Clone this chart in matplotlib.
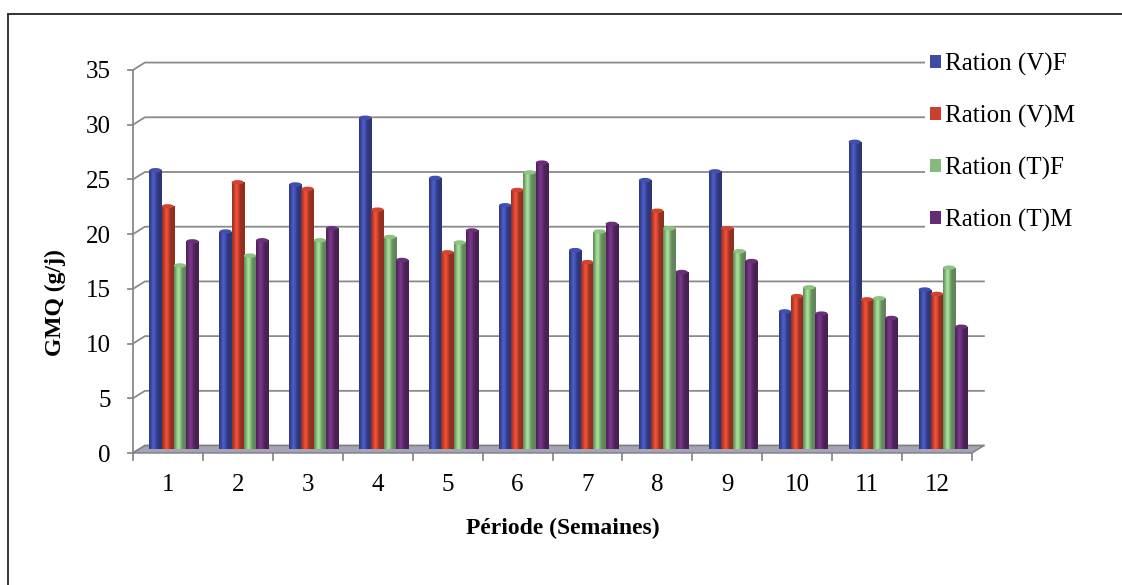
import numpy as np
import matplotlib.pyplot as plt
from matplotlib.patches import Polygon, Ellipse
from matplotlib.lines import Line2D
from matplotlib.colors import to_rgb

plt.rcParams['font.family'] = ['Liberation Serif', 'DejaVu Serif']

# GMQ par semaine et par ration
semaines = ['1', '2', '3', '4', '5', '6', '7', '8', '9', '10', '11', '12']
ration_v_f = [25.5, 19.9, 24.2, 30.3, 24.8, 22.3, 18.2, 24.6, 25.4, 12.6, 28.1, 14.6]
ration_v_m = [22.2, 24.4, 23.8, 21.9, 18.0, 23.7, 17.1, 21.8, 20.2, 14.0, 13.7, 14.2]
ration_t_f = [16.8, 17.7, 19.1, 19.4, 18.9, 25.3, 19.9, 20.2, 18.1, 14.8, 13.8, 16.6]
ration_t_m = [19.0, 19.1, 20.2, 17.3, 20.0, 26.2, 20.6, 16.2, 17.2, 12.4, 12.0, 11.2]
series = [ration_v_f, ration_v_m, ration_t_f, ration_t_m]
labels = ['Ration (V)F', 'Ration (V)M', 'Ration (T)F', 'Ration (T)M']
colors = ['#3E4BA5', '#C8412D', '#87B97D', '#642D73']

W, H = 1122, 585
fig = plt.figure(figsize=(W / 100, H / 100), dpi=100)
ax = fig.add_axes([133 / W, 132 / H, 839 / W, 383 / H])
n = len(semaines)
for s in ax.spines.values():
    s.set_visible(False)

# fake 3D box: back wall offset by (dx, dy)
dx, dy = 0.17, 0.68
grid_c = '#8a8a8a'
for v in range(0, 36, 5):
    ax.plot([0, dx, n + dx], [v + 0, v + dy, v + dy], color=grid_c, lw=1.3,
            clip_on=False, zorder=1)
    ax.plot([-0.07, 0], [v, v], color=grid_c, lw=1.3, clip_on=False, zorder=1)
ax.plot([0, 0], [0, 35], color=grid_c, lw=1.3, clip_on=False, zorder=1)

floor = Polygon([(0, 0), (n, 0), (n + dx, dy), (dx, dy)], closed=True,
                facecolor='#a4a4b4', edgecolor='#7c7c84', lw=1.0,
                clip_on=False, zorder=1.5)
ax.add_patch(floor)
for i in range(n + 1):
    ax.plot([i, i], [0, -0.6], color=grid_c, lw=1.3, clip_on=False, zorder=1)

# cylinder-like bars
w = 0.175
prof = np.linspace(0, 1, 40)
shade = 0.72 + 0.5 * np.exp(-((prof - 0.35) / 0.22) ** 2)
x = np.arange(n) + 0.5 + dx / 2
for k, (vals, c, lab) in enumerate(zip(series, colors, labels)):
    base = np.array(to_rgb(c))
    img = np.clip(base[None, None, :] * shade[None, :, None], 0, 1)
    bars = ax.bar(x + (k - 1.5) * w, vals, w, bottom=dy / 2, color=c,
                  label=lab, zorder=3, clip_on=False)
    for b in bars:
        x0, y0 = b.get_x(), b.get_y()
        bw, bh = b.get_width(), b.get_height()
        im = ax.imshow(img, extent=[x0, x0 + bw, y0, y0 + bh], aspect='auto',
                       interpolation='bilinear', zorder=3.1)
        im.set_clip_path(b)
        cap = Ellipse((x0 + bw / 2, y0 + bh), bw, 0.4,
                      facecolor=np.clip(base * 1.05, 0, 1),
                      edgecolor='none', zorder=3.2, clip_on=False)
        ax.add_patch(cap)

ax.set_xlim(0, n)
ax.set_ylim(0, 35)
ax.set_yticks(range(0, 36, 5))
ax.set_xticks(x - dx / 2, semaines)
ax.tick_params(axis='y', length=0, pad=16, labelsize=18)
ax.tick_params(axis='x', length=0, pad=15, labelsize=18)

fig.text(563 / W, 1 - 528 / H, 'Période (Semaines)', ha='center', va='center',
         fontsize=17, fontweight='bold')
fig.text(55 / W, 1 - 303 / H, 'GMQ (g/j)', ha='center', va='center',
         rotation=90, fontsize=17, fontweight='bold')

leg = ax.legend(loc='upper left', bbox_to_anchor=(925 / W, 1 - 48 / H),
                bbox_transform=fig.transFigure, fontsize=18, frameon=True,
                fancybox=False, handlelength=0.45, handleheight=0.45,
                handletextpad=0.15, labelspacing=1.15, borderpad=0.2,
                borderaxespad=0)
leg.get_frame().set_facecolor('white')
leg.get_frame().set_edgecolor('none')
leg.get_frame().set_alpha(1)
leg.set_zorder(10)

# outer frame (top and left edges only)
fig.add_artist(Line2D([8 / W, 1], [1 - 14 / H, 1 - 14 / H], color='#333333', lw=1.4))
fig.add_artist(Line2D([8 / W, 8 / W], [0, 1 - 14 / H], color='#333333', lw=1.4))

fig.savefig('out.png', dpi=100)
